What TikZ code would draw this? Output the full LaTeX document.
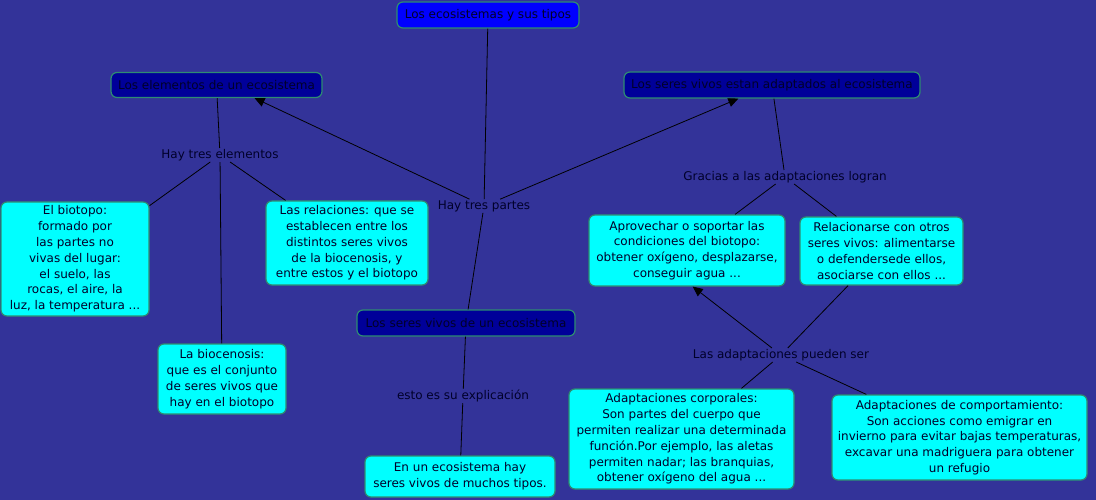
\documentclass[tikz,border=0pt]{standalone}
\usepackage{fontspec}
\setmainfont{DejaVu Sans}
\usetikzlibrary{arrows.meta}
\definecolor{bg}{HTML}{333399}
\definecolor{cy}{HTML}{00FFFF}
\definecolor{bd}{HTML}{2E8C72}
\definecolor{navy}{HTML}{000099}
\definecolor{blu}{HTML}{0000FF}
\definecolor{ink}{HTML}{00002A}
\begin{document}
\begin{tikzpicture}[x=1pt,y=-1pt,
  every node/.style={font=\fontsize{12}{15.8}\selectfont, text=ink},
  cbox/.style={draw=bd, fill=cy, rounded corners=6pt, align=center, inner sep=0pt, line width=1.2pt},
  dbox/.style={draw=bd, fill=navy, rounded corners=6pt, align=center, inner sep=0pt, line width=1.2pt},
  tbox/.style={dbox, fill=blu},
  lbl/.style={inner sep=1pt},
  conn/.style={draw=black, line width=0.8pt},
  arr/.style={conn, -{Triangle[length=10pt,width=9pt]}}]
\useasboundingbox (0,0) rectangle (1096,500);
\fill[bg] (0,0) rectangle (1096,500);

% concept nodes
\node[tbox, minimum width=182, minimum height=26] (top) at (488,15) {Los ecosistemas y sus tipos};
\node[dbox, minimum width=211, minimum height=25] (elem) at (216.5,85) {Los elementos de un ecosistema};
\node[dbox, minimum width=296, minimum height=26] (adapt) at (772,85) {Los seres vivos estan adaptados al ecosistema};
\node[dbox, minimum width=218, minimum height=26] (svde) at (466,323) {Los seres vivos de un ecosistema};

\node[cbox, minimum width=148, minimum height=114] (bio) at (75,259) {El biotopo:\\formado por\\las partes no\\vivas del lugar:\\el suelo, las\\rocas, el aire, la\\luz, la temperatura ...};
\node[cbox, minimum width=162, minimum height=84] (rel) at (347,243) {Las relaciones: que se\\establecen entre los\\distintos seres vivos\\de la biocenosis, y\\entre estos y el biotopo};
\node[cbox, minimum width=128, minimum height=70] (bcn) at (222,379) {La biocenosis:\\que es el conjunto\\de seres vivos que\\hay en el biotopo};
\node[cbox, minimum width=190, minimum height=41] (enun) at (460,476.5) {En un ecosistema hay\\seres vivos de muchos tipos.};
\node[cbox, minimum width=196, minimum height=71] (aprov) at (687,250.5) {Aprovechar o soportar las\\condiciones del biotopo:\\obtener oxígeno, desplazarse,\\conseguir agua ...};
\node[cbox, minimum width=163, minimum height=68] (relac) at (881.5,251) {Relacionarse con otros\\seres vivos: alimentarse\\o defendersede ellos,\\asociarse con ellos ...};
\node[cbox, minimum width=225, minimum height=100] (corp) at (681.5,439) {Adaptaciones corporales:\\Son partes del cuerpo que\\permiten realizar una determinada\\función.Por ejemplo, las aletas\\permiten nadar; las branquias,\\obtener oxígeno del agua ...};
\node[cbox, minimum width=255, minimum height=85] (comp) at (959.5,437.5) {Adaptaciones de comportamiento:\\Son acciones como emigrar en\\invierno para evitar bajas temperaturas,\\excavar una madriguera para obtener\\un refugio};

% linking phrases
\node[lbl] (htp) at (484,206) {Hay tres partes};
\node[lbl] (hte) at (220,155) {Hay tres elementos};
\node[lbl] (gra) at (785,177) {Gracias a las adaptaciones logran};
\node[lbl] (lap) at (781,355) {Las adaptaciones pueden ser};
\node[lbl] (esto) at (463,396) {esto es su explicación};

% connectors
\draw[conn] (top) -- (htp);
\draw[arr] (htp) -- (elem.-19);
\draw[arr] (htp) -- (adapt.-158);
\draw[conn] (htp) -- (svde);
\draw[conn] (elem) -- (hte);
\draw[conn] (hte) -- (bio);
\draw[conn] (hte) -- (bcn);
\draw[conn] (hte) -- (rel);
\draw[conn] (svde) -- (esto);
\draw[conn] (esto) -- (enun);
\draw[conn] (adapt) -- (gra);
\draw[conn] (gra) -- (aprov);
\draw[conn] (gra) -- (relac);
\draw[arr] (lap) -- (aprov.-81);
\draw[conn] (lap) -- (relac);
\draw[conn] (lap) -- (corp);
\draw[conn] (lap) -- (comp);
\end{tikzpicture}
\end{document}
